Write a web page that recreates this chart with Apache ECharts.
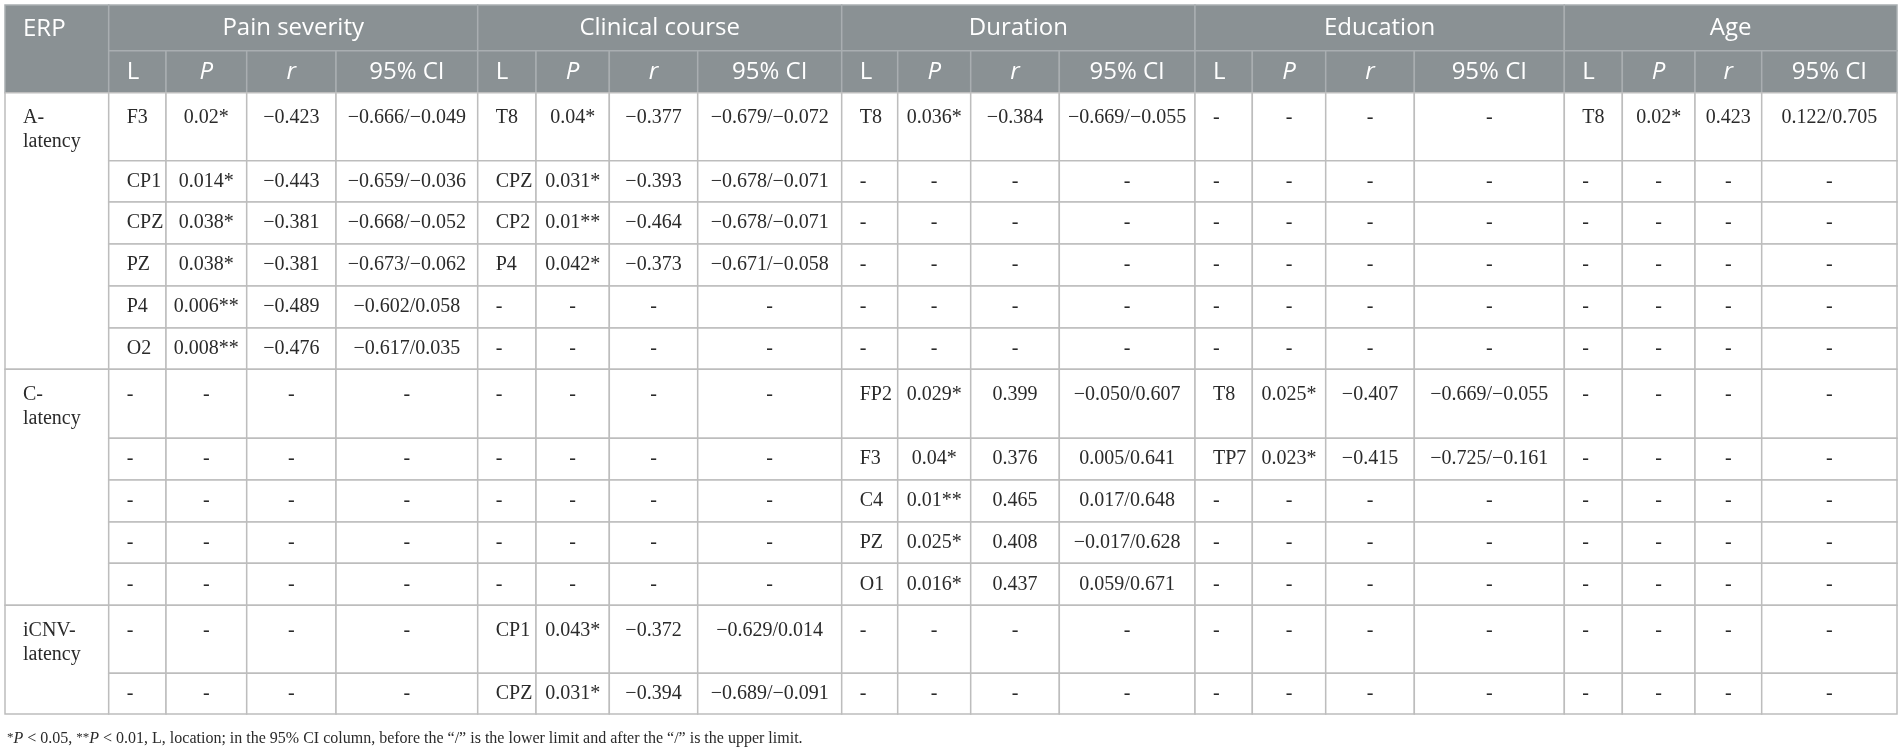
<!DOCTYPE html>
<html>
<head>
<meta charset="utf-8">
<style>
  html, body { margin: 0; padding: 0; background: #fff; }
  #chart { width: 1900px; height: 748px; }
</style>
<script src="https://cdn.jsdelivr.net/npm/echarts@6/dist/echarts.min.js"></script>
</head>
<body>
<div id="chart"></div>
<script>
// ERP groups and the number of body rows each one spans
const erpGroups = ['A-\nlatency', 'C-\nlatency', 'iCNV-\nlatency'];
const groupSizes = [6, 5, 2];
const factors = ['Pain severity', 'Clinical course', 'Duration', 'Education', 'Age'];
const subHeads = ['L', 'P', 'r', '95% CI'];

// Pain severity
const painL = ['F3', 'CP1', 'CPZ', 'PZ', 'P4', 'O2', '-', '-', '-', '-', '-', '-', '-'];
const painP = ['0.02*', '0.014*', '0.038*', '0.038*', '0.006**', '0.008**', '-', '-', '-', '-', '-', '-', '-'];
const painR = ['−0.423', '−0.443', '−0.381', '−0.381', '−0.489', '−0.476', '-', '-', '-', '-', '-', '-', '-'];
const painCI = ['−0.666/−0.049', '−0.659/−0.036', '−0.668/−0.052', '−0.673/−0.062', '−0.602/0.058', '−0.617/0.035', '-', '-', '-', '-', '-', '-', '-'];

// Clinical course
const courseL = ['T8', 'CPZ', 'CP2', 'P4', '-', '-', '-', '-', '-', '-', '-', 'CP1', 'CPZ'];
const courseP = ['0.04*', '0.031*', '0.01**', '0.042*', '-', '-', '-', '-', '-', '-', '-', '0.043*', '0.031*'];
const courseR = ['−0.377', '−0.393', '−0.464', '−0.373', '-', '-', '-', '-', '-', '-', '-', '−0.372', '−0.394'];
const courseCI = ['−0.679/−0.072', '−0.678/−0.071', '−0.678/−0.071', '−0.671/−0.058', '-', '-', '-', '-', '-', '-', '-', '−0.629/0.014', '−0.689/−0.091'];

// Duration
const durL = ['T8', '-', '-', '-', '-', '-', 'FP2', 'F3', 'C4', 'PZ', 'O1', '-', '-'];
const durP = ['0.036*', '-', '-', '-', '-', '-', '0.029*', '0.04*', '0.01**', '0.025*', '0.016*', '-', '-'];
const durR = ['−0.384', '-', '-', '-', '-', '-', '0.399', '0.376', '0.465', '0.408', '0.437', '-', '-'];
const durCI = ['−0.669/−0.055', '-', '-', '-', '-', '-', '−0.050/0.607', '0.005/0.641', '0.017/0.648', '−0.017/0.628', '0.059/0.671', '-', '-'];

// Education
const eduL = ['-', '-', '-', '-', '-', '-', 'T8', 'TP7', '-', '-', '-', '-', '-'];
const eduP = ['-', '-', '-', '-', '-', '-', '0.025*', '0.023*', '-', '-', '-', '-', '-'];
const eduR = ['-', '-', '-', '-', '-', '-', '−0.407', '−0.415', '-', '-', '-', '-', '-'];
const eduCI = ['-', '-', '-', '-', '-', '-', '−0.669/−0.055', '−0.725/−0.161', '-', '-', '-', '-', '-'];

// Age
const ageL = ['T8', '-', '-', '-', '-', '-', '-', '-', '-', '-', '-', '-', '-'];
const ageP = ['0.02*', '-', '-', '-', '-', '-', '-', '-', '-', '-', '-', '-', '-'];
const ageR = ['0.423', '-', '-', '-', '-', '-', '-', '-', '-', '-', '-', '-', '-'];
const ageCI = ['0.122/0.705', '-', '-', '-', '-', '-', '-', '-', '-', '-', '-', '-', '-'];

const footnote = '{s|*}{i|P} < 0.05, {s|**}{i|P} < 0.01, L, location; in the 95% CI column, before the “/” is the lower limit and after the “/” is the upper limit.';

const factorCols = [
  [painL, painP, painR, painCI],
  [courseL, courseP, courseR, courseCI],
  [durL, durP, durR, durCI],
  [eduL, eduP, eduR, eduCI],
  [ageL, ageP, ageR, ageCI]
];

// layout: column / row edges in axis units
const colEdges = [0, 103.7, 161, 241.7, 331, 472.7, 531, 604.3, 692.7, 836.7, 892.7, 965.7, 1054.3,
  1190, 1247.3, 1320.7, 1409.3, 1559.3, 1617.3, 1690, 1756.7, 1892];
const rowEdges = [0, 45.7, 87.7, 155.7, 197, 239, 281, 323, 364.3, 433.3, 475, 517, 558.3, 600.3, 668.3, 709];

const HEAD_FILL = '#8a9194';
const HEAD_LINE = '#a9aeb1';
const BODY_LINE = '#bdbdbd';
const TEXT = '#2a2a2a';
const SANS = '"Open Sans", "Noto Sans", sans-serif';
const SERIF = '"Liberation Serif", "DejaVu Serif", serif';

// build cells: [c0, c1, r0, r1], text, kind
const cells = [];
cells.push({ value: [0, 1, 0, 2], text: 'ERP', kind: 'headLeft' });
factors.forEach((f, i) => {
  cells.push({ value: [1 + i * 4, 5 + i * 4, 0, 1], text: f, kind: 'head' });
  subHeads.forEach((s, j) => {
    cells.push({ value: [1 + i * 4 + j, 2 + i * 4 + j, 1, 2], text: s, kind: j === 0 ? 'headSubLeft' : 'headSub', italic: j === 1 || j === 2 });
  });
});
let start = 0;
erpGroups.forEach((g, gi) => {
  cells.push({ value: [0, 1, 2 + start, 2 + start + groupSizes[gi]], text: g, kind: 'erp' });
  start += groupSizes[gi];
});
factorCols.forEach((cols, i) => {
  cols.forEach((arr, j) => {
    arr.forEach((t, r) => {
      cells.push({ value: [1 + i * 4 + j, 2 + i * 4 + j, 2 + r, 3 + r], text: t, kind: j === 0 ? 'bodyLeft' : 'body' });
    });
  });
});

function renderCell(params, api) {
  const item = cells[params.dataIndex];
  const c0 = api.value(0), c1 = api.value(1), r0 = api.value(2), r1 = api.value(3);
  const p0 = api.coord([colEdges[c0], rowEdges[r0]]);
  const p1 = api.coord([colEdges[c1], rowEdges[r1]]);
  const x = p0[0], y = p0[1], w = p1[0] - p0[0], h = p1[1] - p0[1];
  const isHead = item.kind.indexOf('head') === 0;
  const rect = {
    type: 'rect',
    shape: { x: x, y: y, width: w, height: h },
    style: { fill: isHead ? HEAD_FILL : '#fff', stroke: isHead ? HEAD_LINE : BODY_LINE, lineWidth: 1.5 }
  };
  let tx, ty, align = 'center', vAlign = 'middle';
  if (item.kind === 'headLeft') {
    tx = x + 18; ty = y + 24; align = 'left';
  } else if (item.kind === 'headSubLeft') {
    tx = x + 18; ty = y + h / 2; align = 'left';
  } else if (item.kind === 'erp') {
    tx = x + 18; ty = y + 13; align = 'left'; vAlign = 'top';
  } else if (item.kind === 'bodyLeft') {
    tx = x + 18; ty = h > 55 ? y + 25 : y + h / 2; align = 'left';
  } else if (item.kind === 'body') {
    tx = x + w / 2; ty = h > 55 ? y + 25 : y + h / 2;
  } else {
    tx = x + w / 2; ty = y + h / 2;
  }
  const text = {
    type: 'text',
    style: {
      x: tx, y: ty, text: item.text, align: align, verticalAlign: vAlign,
      fill: isHead ? '#fff' : TEXT,
      fontFamily: isHead ? SANS : SERIF,
      fontSize: isHead ? 24 : 20,
      fontStyle: item.italic ? 'italic' : 'normal',
      lineHeight: 24
    }
  };
  return { type: 'group', children: [rect, text] };
}

const chart = echarts.init(document.getElementById('chart'), null, { renderer: 'canvas' });
chart.setOption({
  animation: false,
  backgroundColor: '#fff',
  title: {
    left: 2, top: 726,
    text: footnote,
    textStyle: {
      fontFamily: SERIF, fontSize: 16, fontWeight: 'normal', color: TEXT,
      rich: {
        i: { fontFamily: SERIF, fontSize: 16, fontStyle: 'italic', color: TEXT },
        s: { fontFamily: SERIF, fontSize: 13, color: TEXT, verticalAlign: 'top' }
      }
    }
  },
  grid: { left: 5, top: 5, width: 1892, height: 709 },
  xAxis: { type: 'value', min: 0, max: colEdges[colEdges.length - 1], show: false },
  yAxis: { type: 'value', min: 0, max: rowEdges[rowEdges.length - 1], inverse: true, show: false },
  series: [{
    type: 'custom',
    clip: false,
    encode: { x: [0, 1], y: [2, 3] },
    data: cells.map(c => c.value),
    renderItem: renderCell
  }]
});
</script>
</body>
</html>
